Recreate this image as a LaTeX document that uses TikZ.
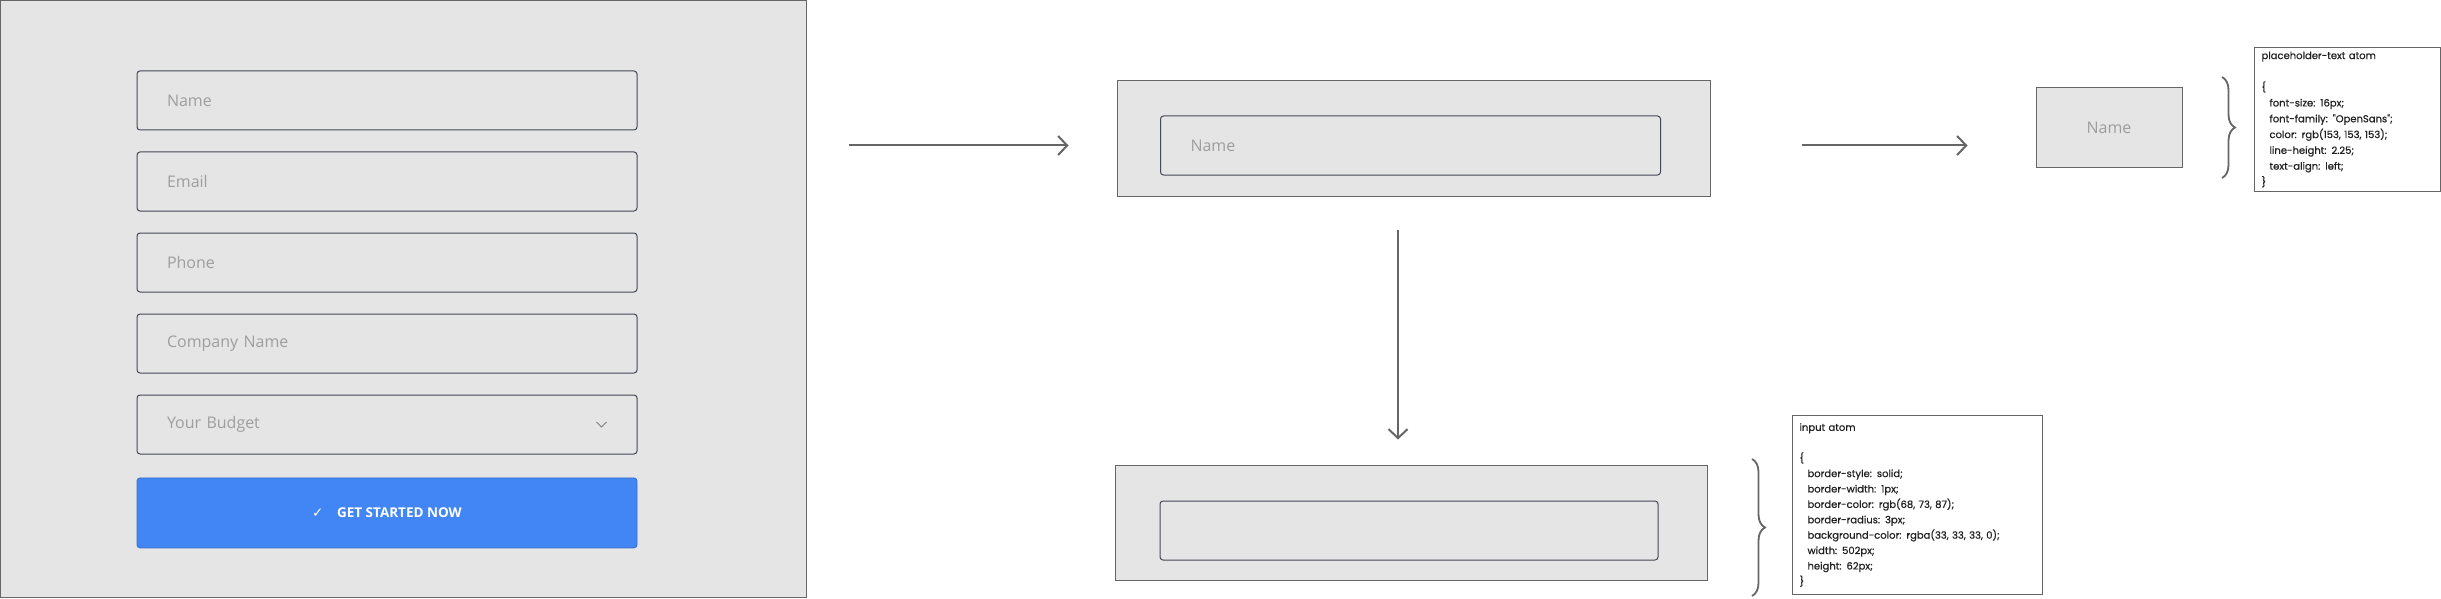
\documentclass[tikz,border=0pt]{standalone}
\usepackage{fontspec}
\setmainfont{Open Sans}
\newfontfamily\codefont[FakeBold=0.6]{Poppins}
\newfontfamily\symfont{DejaVu Sans}
\usetikzlibrary{positioning,arrows.meta,decorations.pathreplacing}
\definecolor{panelgray}{RGB}{229,229,229}
\definecolor{framegray}{RGB}{102,102,102}
\definecolor{fieldline}{RGB}{68,73,87}
\definecolor{hintgray}{RGB}{158,158,158}
\definecolor{btnblue}{RGB}{66,133,244}
\tikzset{
>={Straight Barb[length=9pt,width=19pt]},
x=1pt,
y=-1pt,
}

\begin{document}
\begin{tikzpicture}
    [
    panel/.style={draw=framegray, line width=1pt, fill=panelgray, inner sep=0pt},
    field/.style={draw=fieldline, line width=1pt, rounded corners=3pt, fill=panelgray,
        minimum height=59pt, text width=440pt, inner xsep=30pt, inner ysep=0pt,
        align=left, text=hintgray, font=\fontsize{16}{19}\selectfont},
    button/.style={draw=btnblue!85!black, line width=0.8pt, rounded corners=3pt, fill=btnblue,
        minimum width=500pt, minimum height=70pt, inner sep=0pt,
        text=white, font=\bfseries\fontsize{13.5}{16}\selectfont},
    code/.style={draw=framegray, line width=1pt, fill=white, anchor=north west,
        inner xsep=7pt, inner ysep=0pt, align=left, text=black!87,
        font=\codefont\fontsize{10}{15.4}\selectfont},
    arr/.style={->, draw=framegray, line width=2pt},
    curly/.style={draw=framegray, line width=1.8pt, decorate, decoration={brace, amplitude=13pt}},
    ]
    \fill [white] (0,0) rectangle (2441,599);
    \useasboundingbox (0,0) rectangle (2441,599);

    % the whole form
    \node [panel, minimum width=806pt, minimum height=596pt] (form) at (403.5,299) {};
    \node [field] (name) at (387,100.5) {Name};
    \node [field, below=21pt of name] (email) {Email};
    \node [field, below=21pt of email] (phone) {Phone};
    \node [field, below=21pt of phone] (company) {Company Name};
    \node [field, below=21pt of company] (budget) {Your Budget};
    \node [button, below=23pt of budget] (start) {{\symfont\mdseries ✓}\quad GET STARTED NOW};
    \draw [draw=gray, line width=0.9pt] ([xshift=-41pt,yshift=2.5pt]budget.east) -- ++(5,5) -- ++(5,-5);

    % one field taken out
    \node [panel, minimum width=593pt, minimum height=115pt] (inbox) at (1413.5,138.5) {};
    \node [field] (inname) at (1410.5,145.5) {Name};

    % the placeholder text
    \node [panel, minimum width=146pt, minimum height=79pt, text=hintgray,
        font=\fontsize{16}{19}\selectfont] (hint) at (2109,127.5) {Name};

    \node [code, text width=172pt, minimum height=144pt,
        font=\codefont\fontsize{10}{15.8}\selectfont] (hintcss) at (2254,47)
    {
        placeholder-text atom
        \\[15.8pt]
        \{
        \\
        \hspace*{8pt}font-size: 16px;
        \\
        \hspace*{8pt}font-family: "OpenSans";
        \\
        \hspace*{8pt}color: rgb(153, 153, 153);
        \\
        \hspace*{8pt}line-height: 2.25;
        \\
        \hspace*{8pt}text-align: left;
        \\
        \}
    };

    % the empty input
    \node [panel, minimum width=592pt, minimum height=115pt] (atombox) at (1411,522.5) {};
    \node [field, text width=438pt] (inatom) at (1409,530.5) {};

    \node [code, text width=236pt, minimum height=179pt] (inputcss) at (1792,415)
    {
        input atom
        \\[15.4pt]
        \{
        \\
        \hspace*{8pt}border-style: solid;
        \\
        \hspace*{8pt}border-width: 1px;
        \\
        \hspace*{8pt}border-color: rgb(68, 73, 87);
        \\
        \hspace*{8pt}border-radius: 3px;
        \\
        \hspace*{8pt}background-color: rgba(33, 33, 33, 0);
        \\
        \hspace*{8pt}width: 502px;
        \\
        \hspace*{8pt}height: 62px;
        \\
        \}
    };

    \draw [arr, shorten <=42pt, shorten >=48pt] (form.east |- inname.west) -- (inbox.west |- inname.west);
    \draw [arr, shorten <=91pt, shorten >=68pt] (inbox.east |- inname.west) -- (hint.west |- inname.west);
    \draw [arr, shorten <=33pt, shorten >=25pt] ([xshift=-15.5pt]inbox.south) -- ([xshift=-13pt]atombox.north);

    \draw [curly] ([xshift=-32pt,yshift=-30pt]hintcss.north west) -- ([xshift=-32pt,yshift=-131pt]hintcss.north west);
    \draw [curly] ([xshift=-40pt,yshift=-44pt]inputcss.north west) -- ([xshift=-40pt,yshift=-181pt]inputcss.north west);

\end{tikzpicture}
\end{document}
